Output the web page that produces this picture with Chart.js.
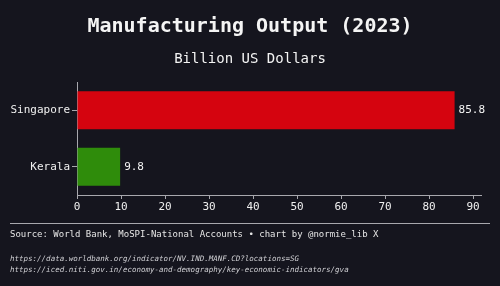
<!DOCTYPE html>
<html>
<head>
<meta charset="utf-8">
<script src="https://cdn.jsdelivr.net/npm/chart.js@4"></script>
<style>
  html, body { margin: 0; padding: 0; background: #15151e; }
</style>
</head>
<body>
<canvas id="myChart" width="500" height="286"></canvas>
<script>
// data
const regions = ['Singapore', 'Kerala'];
const outputBn = [85.8, 9.8];
const barColors = ['#d5040f', '#2f8c0b'];
const xTicks = [0, 10, 20, 30, 40, 50, 60, 70, 80, 90];

const titleText = 'Manufacturing Output (2023)';
const subtitleText = 'Billion US Dollars';
const sourceText = 'Source: World Bank, MoSPI-National Accounts \u2022 chart by @normie_lib X';
const urls = [
  'https://data.worldbank.org/indicator/NV.IND.MANF.CD?locations=SG',
  'https://iced.niti.gov.in/economy-and-demography/key-economic-indicators/gva'
];

const mono = '"DejaVu Sans Mono", "Liberation Mono", monospace';
const axisGrey = '#a8a8ae';

// titles, footer, value labels
const decor = {
  id: 'decor',
  afterDraw(chart) {
    const c = chart.ctx;
    c.save();
    c.fillStyle = '#f4f4f4';
    c.textAlign = 'center';
    c.textBaseline = 'middle';
    c.font = 'bold 20px ' + mono;
    c.fillText(titleText, 250, 27);
    c.font = '14px ' + mono;
    c.fillText(subtitleText, 250, 59);

    // value labels
    c.font = '11px ' + mono;
    c.textAlign = 'left';
    chart.getDatasetMeta(0).data.forEach((bar, i) => {
      c.fillText(outputBn[i].toFixed(1), bar.x + 4, bar.y);
    });

    // footer rule
    c.strokeStyle = axisGrey;
    c.lineWidth = 1;
    c.beginPath();
    c.moveTo(10, 223.5);
    c.lineTo(490, 223.5);
    c.stroke();

    c.fillStyle = '#e6e6e6';
    c.font = '9px ' + mono;
    c.fillText(sourceText, 10, 235);

    c.fillStyle = '#d0d0d4';
    c.font = 'italic 7.5px ' + mono;
    urls.forEach((u, i) => c.fillText(u, 10, 259 + i * 11));
    c.restore();
  }
};

const ctx = document.getElementById('myChart');
new Chart(ctx, {
  type: 'bar',
  data: {
    labels: regions,
    datasets: [{
      data: outputBn,
      backgroundColor: barColors,
      borderWidth: 0,
      barPercentage: 0.67,
      categoryPercentage: 1
    }]
  },
  options: {
    indexAxis: 'y',
    responsive: false,
    animation: false,
    devicePixelRatio: 1,
    layout: { padding: { top: 82, right: 19, bottom: 71, left: 0 } },
    plugins: { legend: { display: false }, tooltip: { enabled: false } },
    scales: {
      x: {
        min: 0,
        max: 91.8,
        afterBuildTicks(scale) { scale.ticks = xTicks.map(v => ({ value: v })); },
        afterFit(scale) { scale.height = 20; },
        border: { color: axisGrey, width: 1 },
        grid: { display: true, drawOnChartArea: false, color: axisGrey, tickLength: 4 },
        ticks: { color: '#f0f0f0', font: { family: mono, size: 11 }, padding: 2 }
      },
      y: {
        afterFit(scale) { scale.width = 77; },
        border: { color: axisGrey, width: 1 },
        grid: { display: true, drawOnChartArea: false, offset: false, color: axisGrey, tickLength: 5 },
        ticks: { color: '#f0f0f0', font: { family: mono, size: 11 }, padding: 2 }
      }
    }
  },
  plugins: [decor]
});
</script>
</body>
</html>
